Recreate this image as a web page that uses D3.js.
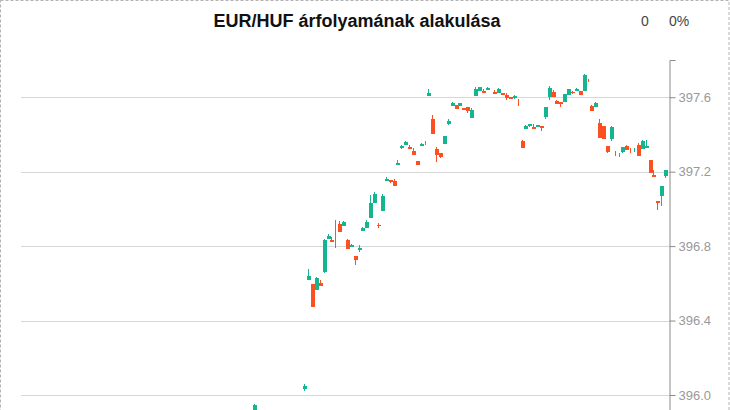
<!DOCTYPE html>
<html>
<head>
<meta charset="utf-8">
<script src="https://cdn.jsdelivr.net/npm/d3@7"></script>
<style>
  html, body { margin: 0; padding: 0; background: #fff; }
  svg { display: block; }
</style>
</head>
<body>
<svg id="chart" width="730" height="410"></svg>
<script>
// ---- data ----
const title = "EUR/HUF árfolyamának alakulása";
const headerValue = "0";
const headerPct = "0%";
const yTicks = [396.0, 396.4, 396.8, 397.2, 397.6];

const slots = [-13, 0, 1, 2, 3, 4, 5, 6, 7, 8, 9, 10, 11, 12, 13, 14, 15, 16, 17, 18, 19,
  20, 21, 22, 23, 24, 25, 26, 27, 28, 29, 30, 31, 32, 33, 34, 35, 36, 37, 38, 39,
  40, 41, 42, 43, 44, 45, 46, 47, 49, 50, 51, 52, 53, 54, 55, 56, 57, 58, 59, 60,
  61, 62, 63, 64, 65, 66, 67, 68, 69, 70, 71, 72, 73, 74, 75, 76, 77, 78, 79, 80,
  81, 82, 83, 84, 85, 86, 87, 88, 89, 90, 91, 92, 93];

const opens = [395.910, 396.030, 396.616, 396.595, 396.563, 396.600, 396.659, 396.837, 396.832, 396.850,
  396.918, 396.907, 396.832, 396.794, 396.745, 396.778, 396.880, 396.896, 396.950, 397.031,
  396.911, 396.989, 397.149, 397.155, 397.149, 397.236, 397.327, 397.343, 397.332, 397.311,
  397.257, 397.338, 397.350, 397.607, 397.483, 397.322, 397.300, 397.349, 397.456, 397.553,
  397.559, 397.553, 397.542, 397.548, 397.489, 397.607, 397.634, 397.634, 397.639, 397.628,
  397.623, 397.623, 397.612, 397.601, 397.596, 397.571, 397.365, 397.429, 397.446, 397.440,
  397.440, 397.446, 397.494, 397.601, 397.628, 397.580, 397.575, 397.575, 397.612, 397.626,
  397.634, 397.634, 397.634, 397.691, 397.553, 397.548, 397.461, 397.446, 397.337, 397.376,
  397.296, 397.290, 397.305, 397.337, 397.316, 397.316, 397.343, 397.322, 397.327, 397.262,
  397.182, 397.045, 397.069, 397.176];

const highs = [395.950, 396.057, 396.675, 396.595, 396.633, 396.616, 396.837, 396.864, 396.848, 396.939,
  396.934, 396.934, 396.837, 396.812, 396.745, 396.805, 396.902, 396.939, 397.074, 397.090,
  396.923, 397.079, 397.171, 397.155, 397.160, 397.262, 397.343, 397.365, 397.343, 397.327,
  397.257, 397.354, 397.365, 397.645, 397.505, 397.332, 397.300, 397.392, 397.483, 397.575,
  397.559, 397.569, 397.542, 397.548, 397.542, 397.655, 397.655, 397.645, 397.655, 397.639,
  397.650, 397.623, 397.623, 397.601, 397.612, 397.591, 397.370, 397.451, 397.456, 397.456,
  397.451, 397.446, 397.548, 397.661, 397.639, 397.585, 397.575, 397.618, 397.645, 397.634,
  397.650, 397.634, 397.725, 397.698, 397.559, 397.575, 397.483, 397.446, 397.337, 397.446,
  397.311, 397.300, 397.332, 397.343, 397.327, 397.327, 397.354, 397.370, 397.370, 397.262,
  397.209, 397.045, 397.123, 397.209];

const lows = [395.900, 396.024, 396.616, 396.471, 396.563, 396.584, 396.654, 396.837, 396.821, 396.789,
  396.875, 396.907, 396.784, 396.794, 396.697, 396.767, 396.880, 396.896, 396.950, 397.031,
  396.896, 396.989, 397.149, 397.139, 397.122, 397.236, 397.322, 397.343, 397.322, 397.289,
  397.236, 397.338, 397.343, 397.607, 397.402, 397.252, 397.273, 397.349, 397.451, 397.553,
  397.537, 397.553, 397.532, 397.515, 397.489, 397.607, 397.634, 397.623, 397.639, 397.618,
  397.623, 397.612, 397.585, 397.591, 397.591, 397.553, 397.327, 397.429, 397.440, 397.429,
  397.440, 397.419, 397.483, 397.585, 397.601, 397.564, 397.548, 397.575, 397.612, 397.618,
  397.634, 397.612, 397.634, 397.682, 397.526, 397.548, 397.381, 397.376, 397.300, 397.365,
  397.284, 397.279, 397.300, 397.316, 397.300, 397.305, 397.284, 397.322, 397.327, 397.192,
  397.171, 396.993, 397.015, 397.166];

const closes = [395.944, 396.047, 396.638, 396.471, 396.627, 396.584, 396.832, 396.853, 396.821, 396.850,
  396.875, 396.929, 396.784, 396.805, 396.724, 396.789, 396.896, 396.929, 397.031, 397.079,
  396.910, 397.069, 397.160, 397.144, 397.122, 397.246, 397.337, 397.359, 397.322, 397.289,
  397.236, 397.349, 397.350, 397.623, 397.402, 397.289, 397.279, 397.392, 397.472, 397.569,
  397.537, 397.569, 397.532, 397.526, 397.532, 397.645, 397.655, 397.623, 397.650, 397.618,
  397.645, 397.612, 397.596, 397.591, 397.607, 397.570, 397.327, 397.446, 397.456, 397.429,
  397.451, 397.435, 397.548, 397.650, 397.601, 397.564, 397.564, 397.618, 397.645, 397.625,
  397.645, 397.612, 397.720, 397.690, 397.526, 397.569, 397.381, 397.376, 397.305, 397.440,
  397.295, 397.290, 397.332, 397.316, 397.315, 397.316, 397.284, 397.365, 397.337, 397.192,
  397.171, 397.034, 397.123, 397.209];

const upColor = "#16b58f";
const downColor = "#fc4f22";

// ---- layout ----
const W = 730, H = 410;
const plotLeft = 21, plotRight = 669, plotTop = 60, plotBottom = 413.6;

const svg = d3.select("#chart");

// dashed frame
svg.append("rect")
  .attr("x", 0.5).attr("y", 0.5)
  .attr("width", W - 1.5).attr("height", H + 20)
  .attr("fill", "none")
  .attr("stroke", "#b3b3b3")
  .attr("stroke-dasharray", "3,2");

const x = d3.scaleLinear().domain([-73, 94]).range([plotLeft, plotRight]);
const y = d3.scaleLinear().domain([395.9, 397.8]).range([plotBottom, plotTop]);

// gridlines
svg.append("g").selectAll("line").data(yTicks).join("line")
  .attr("x1", plotLeft).attr("x2", plotRight)
  .attr("y1", d => Math.round(y(d)) + 0.5).attr("y2", d => Math.round(y(d)) + 0.5)
  .attr("stroke", "#d6d6d6").attr("stroke-width", 1);

// axis on right
const axis = d3.axisRight(y)
  .tickValues(yTicks)
  .tickFormat(d3.format(".1f"))
  .tickSize(6)
  .tickSizeOuter(6);
const gAxis = svg.append("g")
  .attr("transform", `translate(${plotRight + 0.5},0)`)
  .call(axis);
gAxis.select(".domain").attr("stroke", "#8a8a8a");
gAxis.selectAll(".tick line").attr("stroke", "#8a8a8a");
gAxis.selectAll(".tick text")
  .attr("fill", "#999")
  .attr("font-size", 13)
  .attr("font-family", "Liberation Sans, Arial, sans-serif");

// candles
const candles = slots.map((s, i) => ({ s, o: opens[i], h: highs[i], l: lows[i], c: closes[i] }));
const bodyW = 4;
const g = svg.append("g").attr("shape-rendering", "crispEdges");
const cg = g.selectAll("g.c").data(candles).join("g").attr("class", "c");
cg.append("line")
  .attr("x1", d => Math.round(x(d.s)) + 0.5).attr("x2", d => Math.round(x(d.s)) + 0.5)
  .attr("y1", d => y(d.h)).attr("y2", d => y(d.l))
  .attr("stroke", d => d.c >= d.o ? upColor : downColor)
  .attr("stroke-width", 1);
cg.append("rect")
  .attr("x", d => Math.round(x(d.s)) - 1.5)
  .attr("width", bodyW)
  .attr("y", d => y(Math.max(d.o, d.c)))
  .attr("height", d => Math.abs(y(d.o) - y(d.c)))
  .attr("fill", d => d.c >= d.o ? upColor : downColor);

// title and header values
svg.append("text")
  .attr("x", 357).attr("y", 27)
  .attr("text-anchor", "middle")
  .attr("font-family", "Liberation Sans, Arial, sans-serif")
  .attr("font-weight", "bold")
  .attr("font-size", 18)
  .attr("fill", "#111")
  .text(title);
svg.append("text")
  .attr("x", 645).attr("y", 26)
  .attr("text-anchor", "middle")
  .attr("font-family", "Liberation Sans, Arial, sans-serif")
  .attr("font-size", 14)
  .attr("fill", "#444")
  .text(headerValue);
svg.append("text")
  .attr("x", 679).attr("y", 26)
  .attr("text-anchor", "middle")
  .attr("font-family", "Liberation Sans, Arial, sans-serif")
  .attr("font-size", 14)
  .attr("fill", "#444")
  .text(headerPct);
</script>
</body>
</html>
